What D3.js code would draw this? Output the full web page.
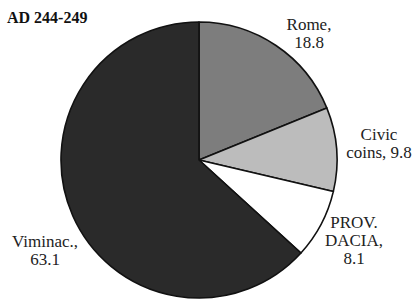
<!DOCTYPE html>
<html><head><meta charset="utf-8">
<script src="https://cdn.jsdelivr.net/npm/d3@7"></script>
</head><body>
<svg id="chart" width="416" height="299" font-family="Liberation Serif"></svg>
<script>
const title = "AD 244-249";
const categories = ["Rome", "Civic coins", "PROV. DACIA", "Viminac."];
const values = [18.8, 9.8, 8.1, 63.1];
const labelLines = [["Rome,", "18.8"], ["Civic", "coins, 9.8"], ["PROV.", "DACIA,", "8.1"], ["Viminac.,", "63.1"]];
const colors = ["#7d7d7d", "#bcbcbc", "#ffffff", "#2a2a2a"];
// label anchor (centre of first line baseline), in px relative to pie centre
const labelAnchor = [[110, -130], [180, -20], [155, 68], [-154, 87]];
const fontName = "Liberation Serif";

d3.select("body").style("margin", "0px").style("background", "#fff");
const svg = d3.select("#chart").style("display", "block").style("font-family", `'${fontName}'`);
const cx = 199, cy = 160, r = 138;
const g = svg.append("g").attr("transform", `translate(${cx},${cy})`);
const pie = d3.pie().sort(null).value(d => d)(values);
const arc = d3.arc().innerRadius(0).outerRadius(r);
g.selectAll("path").data(pie).join("path")
  .attr("d", arc)
  .attr("fill", (d, i) => colors[i])
  .attr("stroke", "#111")
  .attr("stroke-width", 1.6)
  .attr("stroke-linejoin", "round");

svg.append("text").style("font-family", `'${fontName}'`).attr("x", 7).attr("y", 23)
  .attr("font-weight", "bold").attr("font-size", 16).attr("fill", "#111")
  .text(title);

labelLines.forEach((lines, i) => {
  lines.forEach((ln, j) => {
    g.append("text").style("font-family", `'${fontName}'`)
      .attr("font-size", 17).attr("fill", "#222").attr("text-anchor", "middle")
      .attr("x", labelAnchor[i][0]).attr("y", labelAnchor[i][1] + j * 18)
      .text(ln);
  });
});
</script>
</body></html>
